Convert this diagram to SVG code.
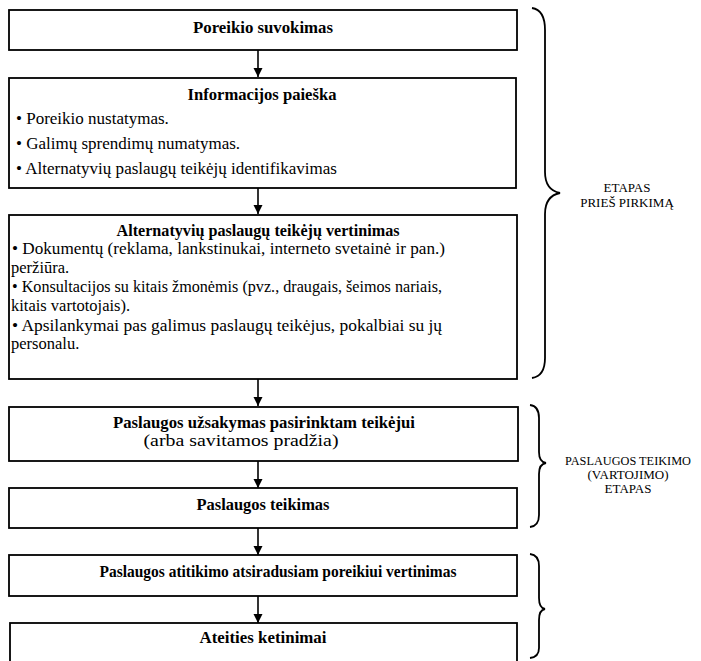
<svg xmlns="http://www.w3.org/2000/svg" width="701" height="661" viewBox="0 0 701 661">
<style>
.box{fill:#fff;stroke:#000;stroke-width:1.8}
.t{font-family:"Liberation Serif","Times New Roman",serif;font-size:17px;fill:#000}
.s3{font-size:16.5px}
.b{font-weight:bold;text-anchor:middle}
.lab{font-family:"Liberation Serif","Times New Roman",serif;font-size:13px;fill:#000;text-anchor:middle}
.con{stroke:#000;stroke-width:1.6;fill:none}
.brace{stroke:#000;stroke-width:1.8;fill:none}
</style>
<defs>
<marker id="ah" markerWidth="9" markerHeight="10" refX="9" refY="4.5" orient="auto" markerUnits="userSpaceOnUse">
<path d="M0,0 L9,4.5 L0,9 Z" fill="#000"/>
</marker>
</defs>
<rect width="701" height="661" fill="#fff"/>
<g id="connectors">
<line class="con" x1="258" y1="50" x2="258" y2="77" marker-end="url(#ah)"/>
<line class="con" x1="258" y1="188" x2="258" y2="214" marker-end="url(#ah)"/>
<line class="con" x1="258" y1="379" x2="258" y2="406" marker-end="url(#ah)"/>
<line class="con" x1="258" y1="461" x2="258" y2="488" marker-end="url(#ah)"/>
<line class="con" x1="258" y1="528" x2="258" y2="555" marker-end="url(#ah)"/>
<line class="con" x1="258" y1="596" x2="258" y2="623" marker-end="url(#ah)"/>
</g>
<g id="n1">
<rect class="box" x="9" y="10" width="508" height="40"/>
<text class="t b" x="263" y="33" textLength="140" lengthAdjust="spacingAndGlyphs">Poreikio suvokimas</text>
</g>
<g id="n2">
<rect class="box" x="9" y="78" width="507" height="110"/>
<text class="t b" x="262" y="100" textLength="149" lengthAdjust="spacingAndGlyphs">Informacijos paieška</text>
<text class="t" x="16" y="124">• Poreikio nustatymas.</text>
<text class="t" x="16" y="149">• Galimų sprendimų numatymas.</text>
<text class="t" x="16" y="174" textLength="321" lengthAdjust="spacingAndGlyphs">• Alternatyvių paslaugų teikėjų identifikavimas</text>
</g>
<g id="n3">
<rect class="box" x="9" y="215" width="508" height="164"/>
<text class="t s3 b" x="258" y="236" textLength="283" lengthAdjust="spacingAndGlyphs">Alternatyvių paslaugų teikėjų vertinimas</text>
<text class="t s3" x="12" y="254" textLength="433" lengthAdjust="spacingAndGlyphs">• Dokumentų (reklama, lankstinukai, interneto svetainė ir pan.)</text>
<text class="t s3" x="11" y="273">peržiūra.</text>
<text class="t s3" x="12" y="292" textLength="430" lengthAdjust="spacingAndGlyphs">• Konsultacijos su kitais žmonėmis (pvz., draugais, šeimos nariais,</text>
<text class="t s3" x="11" y="311">kitais vartotojais).</text>
<text class="t s3" x="12" y="331" textLength="430" lengthAdjust="spacingAndGlyphs">• Apsilankymai pas galimus paslaugų teikėjus, pokalbiai su jų</text>
<text class="t s3" x="11" y="349">personalu.</text>
</g>
<g id="n4">
<rect class="box" x="9" y="407" width="509" height="54"/>
<text class="t b" x="264" y="428" textLength="302" lengthAdjust="spacingAndGlyphs">Paslaugos užsakymas pasirinktam teikėjui</text>
<text class="t" x="241" y="446" text-anchor="middle" font-size="18" textLength="195" lengthAdjust="spacingAndGlyphs">(arba savitamos pradžia)</text>
</g>
<g id="n5">
<rect class="box" x="9" y="488" width="508" height="40"/>
<text class="t b" x="263" y="510" textLength="133" lengthAdjust="spacingAndGlyphs">Paslaugos teikimas</text>
</g>
<g id="n6">
<rect class="box" x="9" y="555" width="508" height="41"/>
<text class="t b" x="278" y="577" textLength="357" lengthAdjust="spacingAndGlyphs">Paslaugos atitikimo atsiradusiam poreikiui vertinimas</text>
</g>
<g id="n7">
<rect class="box" x="10" y="623" width="507" height="45"/>
<text class="t b" x="263" y="643" textLength="127" lengthAdjust="spacingAndGlyphs">Ateities ketinimai</text>
</g>
<g id="braces">
<path class="brace" d="M532,8 Q545,10 545,30 L545,172 Q545,190 560,193 Q545,196 545,214 L545,358 Q545,376 532,378"/>
<path class="brace" d="M530,405 Q539,406 539,418 L539,452 Q539,462 546,463 Q539,464 539,474 L539,515 Q539,526 530,527"/>
<path class="brace" d="M530,554 Q539,555 539,566 L539,598 Q539,608 545,609 Q539,610 539,620 L539,648 Q539,657 530,658"/>
</g>
<g id="labels">
<text class="lab" x="627" y="192">ETAPAS</text>
<text class="lab" x="627" y="207">PRIEŠ PIRKIMĄ</text>
<text class="lab" x="628" y="465" textLength="126" lengthAdjust="spacingAndGlyphs">PASLAUGOS TEIKIMO</text>
<text class="lab" x="628" y="479">(VARTOJIMO)</text>
<text class="lab" x="628" y="493">ETAPAS</text>
</g>
</svg>
